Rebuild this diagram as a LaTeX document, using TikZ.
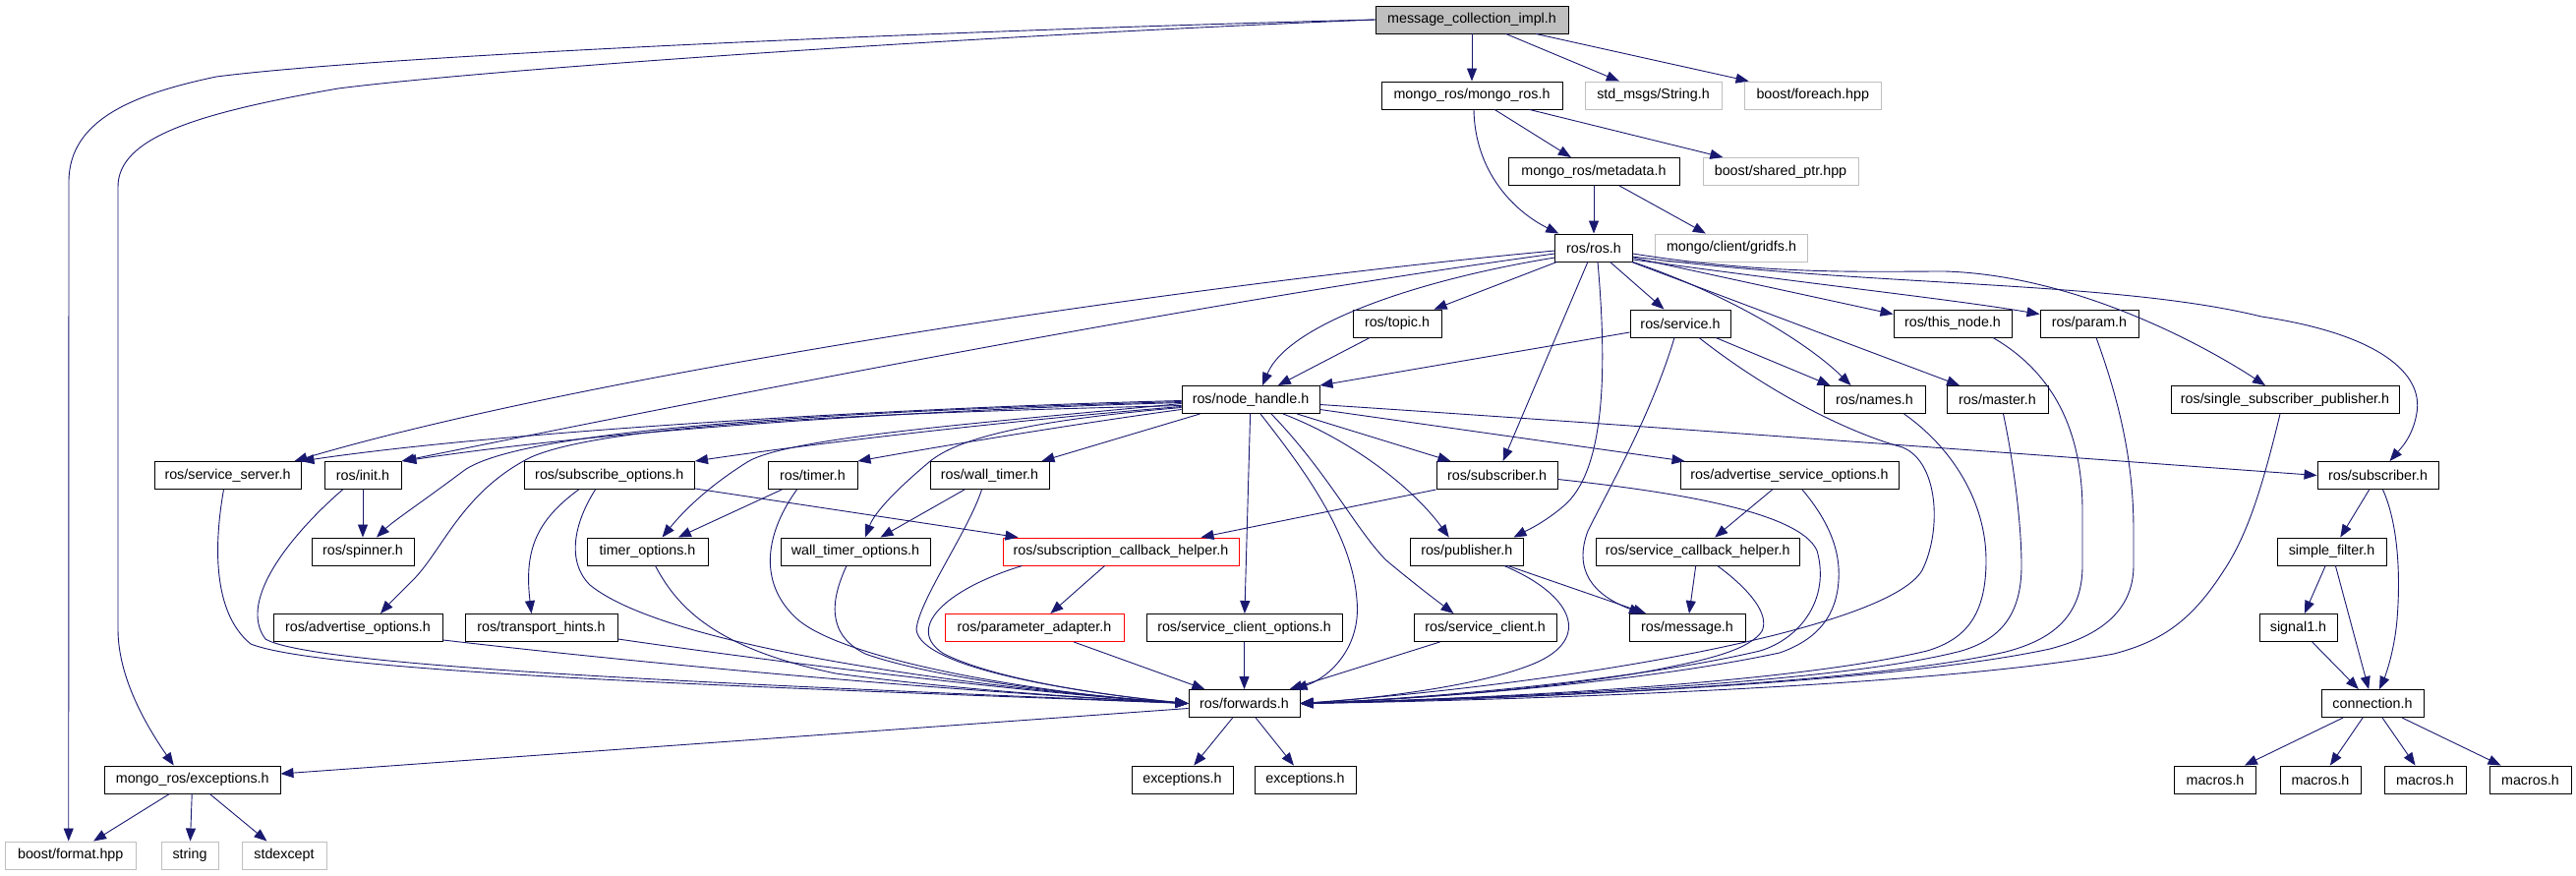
\documentclass[tikz,border=0pt]{standalone}
\usepackage{fontspec}
\setmainfont{Liberation Sans}
\usetikzlibrary{arrows.meta,calc}
\definecolor{edgecol}{HTML}{191970}
\definecolor{extgray}{HTML}{BFBFBF}
\definecolor{incred}{HTML}{FF0000}
\begin{document}
\begin{tikzpicture}[x=1pt,y=-1pt,
  box/.style={draw=black, line width=0.95pt, rectangle, minimum height=28pt, inner sep=0pt,
              font=\fontsize{14.3pt}{16pt}\selectfont, text=black},
  ext/.style={box, draw=extgray},
  incbox/.style={box, draw=incred},
  rootbox/.style={box, fill=extgray},
  edge/.style={draw=edgecol, line width=0.9pt, -{Triangle[length=13pt,width=10pt]}}
]
\fill[white] (0,0) rectangle (2620,891);
\useasboundingbox (0,0) rectangle (2620,891);

% row 0
\node[rootbox, minimum width=196pt] (mci) at (1497,20) {message\_collection\_impl.h};
% row 1
\node[box, minimum width=184pt] (mongoros) at (1497,97) {mongo\_ros/mongo\_ros.h};
\node[ext, minimum width=139pt] (stringh) at (1681.5,97) {std\_msgs/String.h};
\node[ext, minimum width=139.5pt] (foreach) at (1843.75,97) {boost/foreach.hpp};
% row 2
\node[box, minimum width=174pt] (metadata) at (1621,174.5) {mongo\_ros/metadata.h};
\node[ext, minimum width=158pt] (sharedptr) at (1811,174.5) {boost/shared\_ptr.hpp};
% row 3
\node[box, minimum width=78.5pt] (ros) at (1621,252) {ros/ros.h};
\node[ext, minimum width=155.5pt] (gridfs) at (1761,252) {mongo/client/gridfs.h};
% row 4
\node[box, minimum width=90pt] (topic) at (1421,329) {ros/topic.h};
\node[box, minimum width=102pt] (service) at (1709,329) {ros/service.h};
\node[box, minimum width=120pt] (thisnode) at (1986,329) {ros/this\_node.h};
\node[box, minimum width=100pt] (param) at (2125,329) {ros/param.h};
% row 5
\node[box, minimum width=140pt] (nodehandle) at (1272,406.5) {ros/node\_handle.h};
\node[box, minimum width=103pt] (names) at (1906.5,406.5) {ros/names.h};
\node[box, minimum width=103pt] (master) at (2031.5,406.5) {ros/master.h};
\node[box, minimum width=232pt] (ssp) at (2324,406.5) {ros/single\_subscriber\_publisher.h};
% row 6
\node[box, minimum width=149pt] (servserver) at (231.5,483.5) {ros/service\_server.h};
\node[box, minimum width=78pt] (init) at (369,483.5) {ros/init.h};
\node[box, minimum width=173.5pt] (subopts) at (619.75,483.5) {ros/subscribe\_options.h};
\node[box, minimum width=91pt] (timer) at (826.5,483.5) {ros/timer.h};
\node[box, minimum width=121pt] (walltimer) at (1006.5,483.5) {ros/wall\_timer.h};
\node[box, minimum width=123pt] (subscriber) at (1522.5,483.5) {ros/subscriber.h};
\node[box, minimum width=222pt] (advsrvopts) at (1820,483.5) {ros/advertise\_service\_options.h};
\node[box, minimum width=123pt] (subscriber2) at (2418.5,483.5) {ros/subscriber.h};
% row 7
\node[box, minimum width=104pt] (spinner) at (369,561) {ros/spinner.h};
\node[box, minimum width=123pt] (timeropts) at (658.5,561) {timer\_options.h};
\node[box, minimum width=152pt] (walltimeropts) at (870,561) {wall\_timer\_options.h};
\node[incbox, minimum width=240pt] (subcbhelper) at (1140,561) {ros/subscription\_callback\_helper.h};
\node[box, minimum width=114.5pt] (publisher) at (1491.75,561) {ros/publisher.h};
\node[box, minimum width=206.5pt] (srvcbhelper) at (1726.75,561) {ros/service\_callback\_helper.h};
\node[box, minimum width=111pt] (simplefilter) at (2371.5,561) {simple\_filter.h};
% row 8
\node[box, minimum width=172pt] (advopts) at (364,638.5) {ros/advertise\_options.h};
\node[box, minimum width=155pt] (transporthints) at (550.5,638.5) {ros/transport\_hints.h};
\node[incbox, minimum width=182pt] (paramadapter) at (1052,638.5) {ros/parameter\_adapter.h};
\node[box, minimum width=199pt] (srvclientopts) at (1265.5,638.5) {ros/service\_client\_options.h};
\node[box, minimum width=145pt] (srvclient) at (1510.5,638.5) {ros/service\_client.h};
\node[box, minimum width=118pt] (message) at (1716,638.5) {ros/message.h};
\node[box, minimum width=79pt] (signal1) at (2337.5,638.5) {signal1.h};
% row 9
\node[box, minimum width=113pt] (forwards) at (1265.5,715.5) {ros/forwards.h};
\node[box, minimum width=104pt] (connection) at (2413,715.5) {connection.h};
% row 10
\node[box, minimum width=178.5pt] (mrexc) at (195.75,793) {mongo\_ros/exceptions.h};
\node[box, minimum width=103pt] (exc1) at (1202.5,793) {exceptions.h};
\node[box, minimum width=103pt] (exc2) at (1327.5,793) {exceptions.h};
\node[box, minimum width=83pt] (macros1) at (2253,793) {macros.h};
\node[box, minimum width=82pt] (macros2) at (2360,793) {macros.h};
\node[box, minimum width=83pt] (macros3) at (2466.5,793) {macros.h};
\node[box, minimum width=83pt] (macros4) at (2573.5,793) {macros.h};
% row 11
\node[ext, minimum width=133.5pt] (format) at (71.75,870) {boost/format.hpp};
\node[ext, minimum width=58pt] (string) at (193,870) {string};
\node[ext, minimum width=86pt] (stdexcept) at (289,870) {stdexcept};

% ---- edges from message_collection_impl.h
\draw[edge] (mci) -- (mongoros);
\draw[edge] (mci) -- (stringh);
\draw[edge] (mci) -- (foreach);
\draw[edge] (mci.west) .. controls (1000,30) and (400,55) .. (220,78) .. controls (140,95) and (70,120) .. (70,185) -- ($(format.north)+(-2,0)$);
\draw[edge] (mci.west) .. controls (1000,36) and (500,70) .. (344,90) .. controls (200,115) and (120,140) .. (120,190) -- (120,640) .. controls (120,690) and (150,740) .. ($(mrexc.north)+(-19,0)$);

% ---- mongo_ros.h / metadata.h
\draw[edge] (mongoros) -- (metadata);
\draw[edge] (mongoros) -- (sharedptr);
\draw[edge] ($(mongoros.south)+(2,0)$) .. controls (1500,175) and (1540,215) .. ($(ros.north west)+(4,0)$);
\draw[edge] (metadata) -- (ros);
\draw[edge] (metadata) -- (gridfs);

% ---- ros.h
\draw[edge] (ros) -- (topic);
\draw[edge] (ros) -- (service);
\draw[edge] (ros.south east) .. controls (1760,300) and (1840,350) .. ($(names.north)+(-24,0)$);
\draw[edge] (ros) -- (master);
\draw[edge] ($(ros.east)+(0,10)$) -- ($(thisnode.north west)+(0,5)$);
\draw[edge] ($(ros.east)+(0,12)$) .. controls (1850,290) and (1990,305) .. ($(param.north west)+(0,5)$);
\draw[edge] ($(ros.east)+(0,6)$) .. controls (1800,280) and (1900,276) .. (1978,276) .. controls (2110,280) and (2240,350) .. ($(ssp.north)+(-20,0)$);
\draw[edge] ($(ros.east)+(0,9)$) .. controls (1900,292) and (2150,285) .. (2300,322) .. controls (2420,340) and (2465,380) .. (2458,420) .. controls (2454,445) and (2440,458) .. ($(subscriber2.north)+(12,0)$);
\draw[edge] ($(ros.west)+(0,10)$) .. controls (1440,285) and (1310,330) .. ($(nodehandle.north)+(12,0)$);
\draw[edge] ($(ros.west)+(0,3)$) .. controls (1200,290) and (600,380) .. ($(servserver.north east)+(-7,0)$);
\draw[edge] ($(ros.west)+(0,6)$) .. controls (1200,310) and (700,410) .. (init.north east);
\draw[edge] (ros) -- (subscriber);
\draw[edge] ($(ros.south)+(4,0)$) .. controls (1635,380) and (1632,480) .. (1590,515) .. controls (1570,532) and (1552,540) .. ($(publisher.north east)+(-10,0)$);

% ---- topic.h / service.h
\draw[edge] (topic) -- (nodehandle);
\draw[edge] ($(service.west)+(0,9)$) -- (nodehandle.north east);
\draw[edge] ($(service.south)+(36,0)$) -- ($(names.north)+(-45,0)$);
\draw[edge] ($(service.south)+(-6,0)$) .. controls (1680,420) and (1640,490) .. (1615,540) .. controls (1600,580) and (1620,605) .. ($(message.north)+(-46,0)$);
\draw[edge] ($(service.south)+(19,0)$) .. controls (1800,400) and (1880,440) .. (1935,455) .. controls (1972,470) and (1975,540) .. (1955,580) .. controls (1920,640) and (1600,695) .. (forwards.east);

% ---- right-hand nodes into forwards.h
\draw[edge] ($(names.south)+(30,0)$) .. controls (1985,455) and (2020,510) .. (2020,570) .. controls (2020,625) and (2000,650) .. (1960,662) .. controls (1800,700) and (1450,712) .. (forwards.east);
\draw[edge] ($(master.south)+(6,0)$) .. controls (2050,480) and (2056,540) .. (2056,575) .. controls (2056,625) and (2035,650) .. (1995,662) .. controls (1850,700) and (1450,712) .. (forwards.east);
\draw[edge] ($(thisnode.south)+(41,0)$) .. controls (2090,380) and (2118,440) .. (2118,520) -- (2118,575) .. controls (2118,625) and (2090,650) .. (2040,663) .. controls (1880,700) and (1450,713) .. (forwards.east);
\draw[edge] ($(param.south)+(7,0)$) .. controls (2160,420) and (2170,480) .. (2170,540) -- (2170,575) .. controls (2170,625) and (2130,648) .. (2085,660) .. controls (1900,700) and (1450,713) .. (forwards.east);
\draw[edge] ($(ssp.south)+(-5,0)$) .. controls (2300,500) and (2285,545) .. (2262,580) .. controls (2230,630) and (2200,652) .. (2150,665) .. controls (1950,702) and (1450,714) .. (forwards.east);
\draw[edge] ($(subscriber.east)+(0,4)$) .. controls (1700,500) and (1830,520) .. (1848,560) .. controls (1862,610) and (1830,650) .. (1790,662) .. controls (1650,695) and (1420,712) .. (forwards.east);
\draw[edge] ($(advsrvopts.south)+(13,0)$) .. controls (1860,530) and (1872,560) .. (1870,590) .. controls (1868,625) and (1850,650) .. (1810,664) .. controls (1650,698) and (1420,712) .. (forwards.east);
\draw[edge] ($(srvcbhelper.south)+(20,0)$) .. controls (1780,600) and (1800,625) .. (1792,642) .. controls (1780,660) and (1740,670) .. (1700,678) .. controls (1600,700) and (1420,712) .. (forwards.east);
\draw[edge] ($(publisher.south)+(38,0)$) .. controls (1600,605) and (1620,650) .. (1560,675) .. controls (1500,700) and (1380,712) .. (forwards.east);
\draw[edge] (srvcbhelper) -- (message);
\draw[edge] (publisher) -- (message);
\draw[edge] (advsrvopts) -- (srvcbhelper);

% ---- node_handle.h
\draw[edge] ($(nodehandle.south)+(10,0)$) .. controls (1320,470) and (1375,540) .. (1380,610) .. controls (1385,660) and (1350,690) .. ($(forwards.north east)+(-6,0)$);
\draw[edge] ($(nodehandle.south)+(21,0)$) .. controls (1350,480) and (1380,540) .. (1410,570) .. controls (1440,595) and (1460,610) .. ($(srvclient.north)+(-32,0)$);
\draw[edge] ($(nodehandle.south)+(33,0)$) .. controls (1380,450) and (1440,500) .. ($(publisher.north)+(-18,0)$);
\draw[edge] (nodehandle) -- (subscriber);
\draw[edge] ($(nodehandle.east)+(0,10)$) -- ($(advsrvopts.north west)+(5,0)$);
\draw[edge] ($(nodehandle.east)+(0,5)$) .. controls (1700,435) and (2100,465) .. (subscriber2.west);
\draw[edge] (nodehandle) -- (srvclientopts);
\draw[edge] ($(nodehandle.west)+(0,1)$) .. controls (900,415) and (500,440) .. (servserver.north east);
\draw[edge] ($(nodehandle.west)+(0,3)$) .. controls (900,418) and (600,440) .. ($(init.north east)+(2,0)$);
\draw[edge] ($(nodehandle.west)+(0,2)$) .. controls (800,420) and (520,440) .. (470,480) .. controls (430,510) and (400,530) .. ($(spinner.north)+(14,0)$);
\draw[edge] ($(nodehandle.west)+(0,6)$) .. controls (900,420) and (620,430) .. (540,465) .. controls (470,500) and (450,560) .. (420,590) .. controls (405,605) and (395,615) .. ($(advopts.north)+(23,0)$);
\draw[edge] ($(nodehandle.west)+(0,7)$) .. controls (1000,430) and (800,455) .. (subopts.north east);
\draw[edge] ($(nodehandle.west)+(0,10)$) .. controls (1100,430) and (950,455) .. (timer.north east);
\draw[edge] ($(nodehandle.south west)+(19,0)$) -- ($(walltimer.north east)+(-8,0)$);
\draw[edge] ($(nodehandle.west)+(0,4)$) .. controls (1000,430) and (800,445) .. (760,470) .. controls (720,495) and (695,520) .. ($(timeropts.north)+(15,0)$);
\draw[edge] ($(nodehandle.west)+(0,8)$) .. controls (1080,425) and (980,440) .. (945,470) .. controls (915,495) and (890,520) .. ($(walltimeropts.north)+(10,0)$);

% ---- left-hand nodes
\draw[edge] (init) -- (spinner);
\draw[edge] ($(servserver.south)+(-4,0)$) .. controls (220,540) and (212,620) .. (255,655) .. controls (330,685) and (800,700) .. (forwards.west);
\draw[edge] ($(init.south west)+(19,0)$) .. controls (300,540) and (240,610) .. (270,650) .. controls (320,680) and (800,698) .. (forwards.west);
\draw[edge] ($(advopts.south east)+(0,-2)$) .. controls (700,680) and (1000,705) .. (forwards.west);
\draw[edge] ($(transporthints.south east)+(0,-3)$) .. controls (800,675) and (1050,705) .. (forwards.west);
\draw[edge] ($(subopts.south west)+(56,0)$) .. controls (545,530) and (533,560) .. ($(transporthints.north)+(-10,0)$);
\draw[edge] ($(subopts.south west)+(73,0)$) .. controls (585,530) and (575,570) .. (600,595) .. controls (680,660) and (1000,700) .. (forwards.west);
\draw[edge] ($(subopts.south east)+(0,-1)$) -- ($(subcbhelper.north west)+(16,0)$);
\draw[edge] (timer) -- (timeropts);
\draw[edge] ($(timer.south)+(-16,0)$) .. controls (780,540) and (770,590) .. (808,627) .. controls (850,670) and (1050,705) .. (forwards.west);
\draw[edge] (walltimer) -- (walltimeropts);
\draw[edge] ($(walltimer.south)+(-8,0)$) .. controls (985,540) and (935,610) .. (932,640) .. controls (935,680) and (1100,705) .. (forwards.west);
\draw[edge] ($(timeropts.south)+(8,0)$) .. controls (690,620) and (730,660) .. (850,685) .. controls (1000,705) and (1150,712) .. (forwards.west);
\draw[edge] ($(walltimeropts.south)+(-9,0)$) .. controls (845,610) and (840,645) .. (880,665) .. controls (950,690) and (1100,708) .. (forwards.west);
\draw[edge] (subscriber.south west) -- ($(subcbhelper.north east)+(-39,0)$);
\draw[edge] (subcbhelper) -- (paramadapter);
\draw[edge] ($(subcbhelper.south west)+(20,0)$) .. controls (960,600) and (920,640) .. (960,665) .. controls (1020,695) and (1150,710) .. (forwards.west);
\draw[edge] (paramadapter) -- (forwards);
\draw[edge] (srvclientopts) -- (forwards);
\draw[edge] (srvclient) -- (forwards);

% ---- message_filters side
\draw[edge] (subscriber2) -- (simplefilter);
\draw[edge] ($(subscriber2.south)+(5,0)$) .. controls (2438,530) and (2442,580) .. (2438,630) .. controls (2435,665) and (2425,690) .. ($(connection.north)+(7,0)$);
\draw[edge] (simplefilter) -- (signal1);
\draw[edge] (simplefilter) -- (connection);
\draw[edge] (signal1) -- (connection);
\draw[edge] (connection) -- (macros1);
\draw[edge] (connection) -- (macros2);
\draw[edge] (connection) -- (macros3);
\draw[edge] (connection) -- (macros4);

% ---- forwards.h and below
\draw[edge] (forwards) -- (exc1);
\draw[edge] (forwards) -- (exc2);
\draw[edge] ($(forwards.west)+(0,5)$) -- ($(mrexc.east)+(0,-6)$);
\draw[edge] (mrexc) -- (format);
\draw[edge] (mrexc) -- (string);
\draw[edge] (mrexc) -- (stdexcept);
\end{tikzpicture}
\end{document}
